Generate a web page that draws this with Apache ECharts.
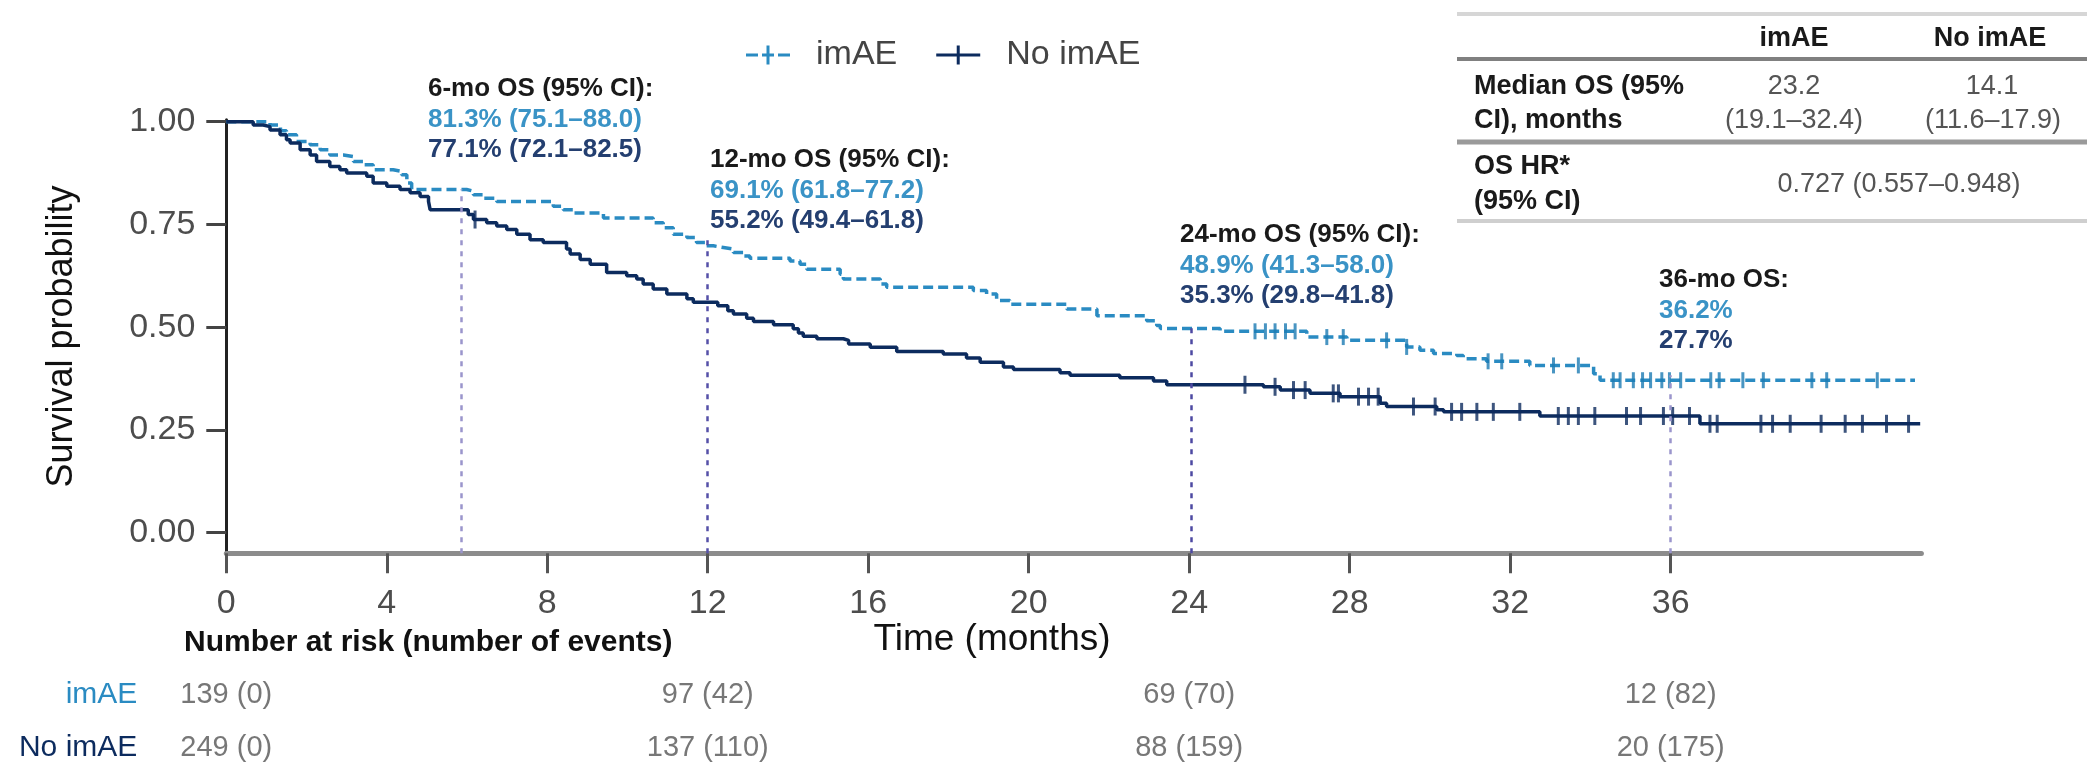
<!DOCTYPE html>
<html><head><meta charset="utf-8">
<script src="https://cdn.jsdelivr.net/npm/echarts@6/dist/echarts.min.js"></script>
<style>html,body{margin:0;padding:0;background:#fff}#c{width:2087px;height:764px}</style>
</head><body><div id="c"></div>
<script>
const FONT = "'Liberation Sans', Arial, Helvetica, sans-serif";
const C1 = '#2a8bc2';   // imAE
const C2 = '#0c2b5e';   // No imAE
const C1T = '#3a93c6';
const C2T = '#243f70';

// ---- data ----
const groups = ['imAE', 'No imAE'];
const xTicks = [0, 4, 8, 12, 16, 20, 24, 28, 32, 36];
const yTicks = [0, 0.25, 0.5, 0.75, 1];

const imaeT = [0,1.09,1.35,1.50,1.75,2.09,2.34,2.58,2.92,3.17,3.41,3.66,4.16,4.37,4.50,4.62,5.99,6.16,6.41,6.74,8.15,8.40,8.65,9.40,10.64,10.89,11.14,11.48,11.72,11.97,12.14,12.39,12.64,12.89,13.05,14.05,14.30,14.47,15.30,15.38,16.30,16.46,18.62,18.95,19.20,19.53,20.95,21.70,22.94,23.19,23.28,24.77,26.93,27.93,29.42,29.75,30.09,30.67,30.83,31.41,32.49,34.08,34.24,42.09];
const imaeS = [1.000,0.992,0.978,0.968,0.952,0.944,0.932,0.919,0.915,0.903,0.895,0.883,0.879,0.871,0.851,0.835,0.831,0.822,0.814,0.806,0.794,0.786,0.778,0.766,0.754,0.742,0.726,0.718,0.706,0.698,0.694,0.690,0.682,0.673,0.668,0.661,0.653,0.641,0.629,0.617,0.605,0.597,0.589,0.581,0.565,0.556,0.544,0.528,0.516,0.504,0.497,0.490,0.476,0.468,0.452,0.444,0.436,0.431,0.423,0.417,0.407,0.387,0.371,0.371];
const imaeCens = [25.64,25.90,26.14,26.40,26.64,27.43,27.84,28.92,29.42,31.45,31.79,33.08,33.70,34.57,34.74,35.07,35.30,35.50,35.78,35.97,36.25,37.00,37.21,37.80,38.31,39.52,39.89,41.15];

const noT = [0,0.67,0.92,1.09,1.34,1.50,1.59,1.84,2.09,2.25,2.58,2.83,3.00,3.50,3.66,4.00,4.33,4.58,4.83,5.04,5.08,6.03,6.16,6.49,6.74,6.99,7.24,7.57,7.90,8.48,8.57,8.82,9.07,9.48,9.98,10.23,10.39,10.64,10.98,11.48,11.64,12.25,12.50,12.64,12.97,13.14,13.64,14.13,14.26,14.38,14.72,15.38,15.51,16.05,16.71,17.87,18.45,18.79,19.37,19.62,20.78,21.03,22.27,23.11,23.44,25.85,26.27,27.01,27.76,28.76,28.92,30.17,30.34,32.74,36.73,42.22];
const noS = [1.000,0.992,0.988,0.980,0.968,0.956,0.948,0.932,0.919,0.903,0.891,0.883,0.875,0.867,0.851,0.843,0.835,0.827,0.818,0.806,0.786,0.774,0.762,0.754,0.746,0.738,0.726,0.713,0.706,0.690,0.678,0.665,0.653,0.633,0.625,0.617,0.605,0.593,0.581,0.569,0.561,0.552,0.540,0.532,0.522,0.514,0.506,0.496,0.486,0.478,0.472,0.468,0.459,0.451,0.441,0.435,0.425,0.415,0.403,0.397,0.389,0.383,0.377,0.369,0.360,0.355,0.347,0.339,0.331,0.315,0.307,0.299,0.294,0.284,0.265,0.265];
const noCens = [6.20,25.39,26.14,26.60,26.89,27.59,27.72,28.22,28.47,28.71,29.59,30.13,30.54,30.79,31.17,31.58,32.24,33.20,33.45,33.70,34.11,34.90,35.25,35.82,36.05,36.47,36.98,37.16,38.25,38.54,38.98,39.75,40.35,40.78,41.38,41.93];

const refTimes = [5.85, 12, 24.05, 36];
const refTops = [0.835, 0.718, 0.508, 0.383];

const riskTimes = [0, 12, 24, 36];
const riskImae = ['139 (0)', '97 (42)', '69 (70)', '12 (82)'];
const riskNo = ['249 (0)', '137 (110)', '88 (159)', '20 (175)'];

const annHead = ['6-mo OS (95% CI):', '12-mo OS (95% CI):', '24-mo OS (95% CI):', '36-mo OS:'];
const annImae = ['81.3% (75.1\u201388.0)', '69.1% (61.8\u201377.2)', '48.9% (41.3\u201358.0)', '36.2%'];
const annNo = ['77.1% (72.1\u201382.5)', '55.2% (49.4\u201361.8)', '35.3% (29.8\u201341.8)', '27.7%'];

const tabHead = ['imAE', 'No imAE'];
const tabRow1Label = ['Median OS (95%', 'CI), months'];
const tabMedImae = ['23.2', '(19.1\u201332.4)'];
const tabMedNo = ['14.1', '(11.6\u201317.9)'];
const tabRow2Label = ['OS HR*', '(95% CI)'];
const tabHR = '0.727 (0.557\u20130.948)';

// ---- helpers ----
const pairs = (t, s) => t.map((v, i) => [v, s[i]]);
function kmAt(t, s, x) { let v = s[0]; for (let i = 0; i < t.length; i++) { if (t[i] <= x) v = s[i]; else break; } return v; }

const chart = echarts.init(document.getElementById('c'), null, {renderer: 'canvas', width: 2087, height: 764});

// layout (pixels)
const annX = [428, 710, 1180, 1659];
const annY = [89, 160, 235, 280];
const annGap = 30.5;

function txt(text, x, y, font, fill, align) {
  return {type: 'text', silent: true, style: {text: text, x: x, y: y, font: font, fill: fill,
    textAlign: align || 'left', align: align || 'left', textVerticalAlign: 'middle', verticalAlign: 'middle'}};
}
function hline(x1, x2, y, w, c) {
  return {type: 'line', silent: true, shape: {x1: x1, y1: y, x2: x2, y2: y}, style: {stroke: c, lineWidth: w}};
}

const graphics = [];
const fB26 = 'bold 26px ' + FONT;
for (let i = 0; i < 4; i++) {
  graphics.push(txt(annHead[i], annX[i], annY[i], fB26, '#1a1a1a'));
  graphics.push(txt(annImae[i], annX[i], annY[i] + annGap, fB26, C1T));
  graphics.push(txt(annNo[i], annX[i], annY[i] + 2 * annGap, fB26, C2T));
}
// table
const fB27 = 'bold 27px ' + FONT, fR27 = '27px ' + FONT;
graphics.push(hline(1457, 2087, 14, 4, '#d6d6d6'));
graphics.push(hline(1457, 2087, 59, 4, '#808080'));
graphics.push(hline(1457, 2087, 142, 5, '#9a9a9a'));
graphics.push(hline(1457, 2087, 221, 4, '#cfcfcf'));
graphics.push(txt(tabHead[0], 1794, 39, fB27, '#1a1a1a', 'center'));
graphics.push(txt(tabHead[1], 1990, 39, fB27, '#1a1a1a', 'center'));
graphics.push(txt(tabRow1Label[0], 1474, 87, fB27, '#1a1a1a'));
graphics.push(txt(tabRow1Label[1], 1474, 121, fB27, '#1a1a1a'));
graphics.push(txt(tabMedImae[0], 1794, 87, fR27, '#555', 'center'));
graphics.push(txt(tabMedImae[1], 1794, 121, fR27, '#555', 'center'));
graphics.push(txt(tabMedNo[0], 1992, 87, fR27, '#555', 'center'));
graphics.push(txt(tabMedNo[1], 1993, 121, fR27, '#555', 'center'));
graphics.push(txt(tabRow2Label[0], 1474, 167, fB27, '#1a1a1a'));
graphics.push(txt(tabRow2Label[1], 1474, 202, fB27, '#1a1a1a'));
graphics.push(txt(tabHR, 1899, 185, fR27, '#555', 'center'));
// titles
graphics.push(txt('Time (months)', 992, 640, '37px ' + FONT, '#111', 'center'));
graphics.push(txt('Number at risk (number of events)', 184, 643, 'bold 30px ' + FONT, '#111'));

const refColors = ['#9a95cc', '#5550a8', '#4d49a2', '#9a95cc'];

const option = {
  animation: false,
  backgroundColor: '#ffffff',
  textStyle: {fontFamily: FONT},
  legend: {
    left: 741, top: 33, itemWidth: 44, itemHeight: 19, itemGap: 39,
    textStyle: {fontSize: 34, color: '#444', fontFamily: FONT, padding: [6, 0, 0, 21]},
    data: [
      {name: 'imAE', icon: 'path://M0,8h12v3h-12zM16,8h12v3h-12zM32,8h12v3h-12zM20.5,0h3v19h-3z', itemStyle: {color: C1, borderWidth: 0}},
      {name: 'No imAE', icon: 'path://M0,8h44v3h-44zM20.5,0h3v19h-3z', itemStyle: {color: C2, borderWidth: 0}}
    ]
  },
  grid: [
    {left: 226.3, right: 165.6, top: 119.65, bottom: 210.75, outerBoundsMode: 'none'},
    {left: 226.3, right: 165.6, top: 668.5, height: 106, outerBoundsMode: 'none'}
  ],
  xAxis: [
    {type: 'value', gridIndex: 0, min: 0, max: 42.25,
      axisLine: {show: true, onZero: false, lineStyle: {color: '#8c8c8c', width: 5}},
      axisTick: {show: true, length: 20, customValues: xTicks, lineStyle: {color: '#555', width: 3}},
      axisLabel: {customValues: xTicks, fontSize: 34, color: '#4d4d4d', margin: 33, fontFamily: FONT},
      splitLine: {show: false}},
    {type: 'value', gridIndex: 1, min: 0, max: 42.25, show: false}
  ],
  yAxis: [
    {type: 'value', gridIndex: 0, min: -0.05, max: 1.005,
      axisLine: {show: true, onZero: false, lineStyle: {color: '#222', width: 3}},
      axisTick: {show: true, length: 20, customValues: yTicks, lineStyle: {color: '#444', width: 3}},
      axisLabel: {customValues: yTicks, formatter: v => Number(v).toFixed(2), fontSize: 34, color: '#4d4d4d', margin: 31, fontFamily: FONT, padding: [10, 0, 0, 0]},
      splitLine: {show: false},
      name: 'Survival probability', nameLocation: 'middle', nameGap: 146, nameRotate: 90,
      nameTextStyle: {fontSize: 36, color: '#111', fontFamily: FONT}},
    {type: 'category', gridIndex: 1, data: groups, inverse: true,
      axisLine: {show: false}, axisTick: {show: false}, splitLine: {show: false},
      axisLabel: {margin: 89, fontSize: 30, fontFamily: FONT, color: v => (v === 'imAE' ? C1 : C2)}}
  ],
  series: [
    {name: 'imAE', type: 'line', step: 'end', xAxisIndex: 0, yAxisIndex: 0, data: pairs(imaeT, imaeS),
      symbol: 'none', lineStyle: {color: C1, width: 3.5, type: [10, 5]}, itemStyle: {color: C1}, z: 3,
      markLine: {silent: true, symbol: ['none', 'none'], label: {show: false}, animation: false,
        data: refTimes.map((t, i) => [
          {coord: [t, -0.05], lineStyle: {color: refColors[i], width: 2.5, type: [5, 6]}},
          {coord: [t, refTops[i]]}])}},
    {name: 'No imAE', type: 'line', step: 'end', xAxisIndex: 0, yAxisIndex: 0, data: pairs(noT, noS),
      symbol: 'none', lineStyle: {color: C2, width: 3.5}, itemStyle: {color: C2}, z: 3},
    {name: 'imAE censored', type: 'scatter', xAxisIndex: 0, yAxisIndex: 0,
      data: imaeCens.map(t => [t, kmAt(imaeT, imaeS, t)]),
      symbol: 'rect', symbolSize: [3, 16], itemStyle: {color: '#1b7ab3'}, z: 4},
    {name: 'No imAE censored', type: 'scatter', xAxisIndex: 0, yAxisIndex: 0,
      data: noCens.map(t => [t, kmAt(noT, noS, t)]),
      symbol: 'rect', symbolSize: [3, 18], itemStyle: {color: C2}, z: 4},
    {name: 'risk imAE', type: 'scatter', xAxisIndex: 1, yAxisIndex: 1,
      data: riskTimes.map((t, i) => [t, groups[0], riskImae[i]]),
      symbolSize: 1, itemStyle: {color: 'transparent'},
      label: {show: true, position: 'inside', formatter: p => p.data[2], fontSize: 29, color: '#555', fontFamily: FONT}},
    {name: 'risk No imAE', type: 'scatter', xAxisIndex: 1, yAxisIndex: 1,
      data: riskTimes.map((t, i) => [t, groups[1], riskNo[i]]),
      symbolSize: 1, itemStyle: {color: 'transparent'},
      label: {show: true, position: 'inside', formatter: p => p.data[2], fontSize: 29, color: '#555', fontFamily: FONT}}
  ],
  graphic: graphics
};
chart.setOption(option);
</script></body></html>
